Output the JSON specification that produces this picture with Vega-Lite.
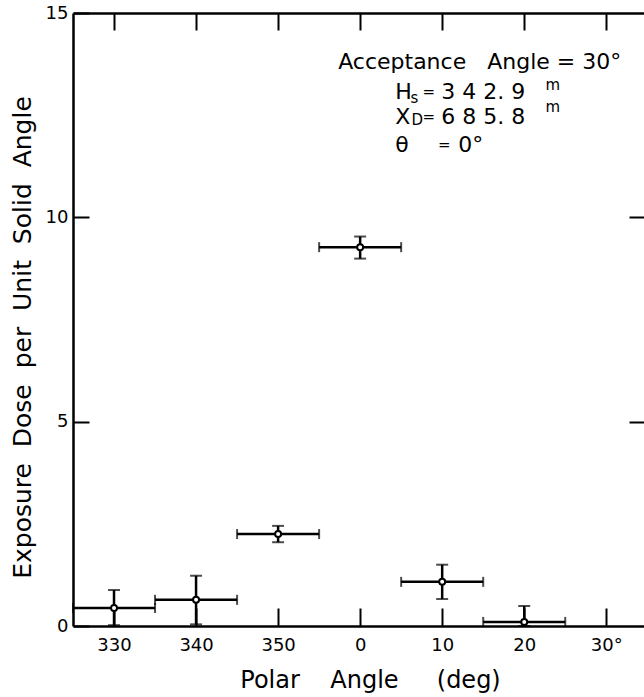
{
  "$schema": "https://vega.github.io/schema/vega-lite/v6.json",
  "width": 571,
  "height": 613,
  "autosize": {"type": "none"},
  "padding": {"left": 73, "top": 13, "right": 0, "bottom": 71},
  "background": "white",
  "config": {
    "view": {"stroke": null},
    "font": "DejaVu Sans",
    "axis": {"domainColor": "black", "tickColor": "black", "labelColor": "black", "titleColor": "black", "grid": false, "domainWidth": 2.5, "tickWidth": 2, "labelFont": "DejaVu Sans", "titleFont": "DejaVu Sans", "titleFontWeight": "normal", "labelFlush": false, "labelOverlap": false}
  },
  "datasets": {
    "pts": [
      {"angle": -30, "dose": 0.44, "dose_lo": 0.02, "dose_hi": 0.88, "angle_lo": -35, "angle_hi": -25},
      {"angle": -20, "dose": 0.64, "dose_lo": 0.04, "dose_hi": 1.23, "angle_lo": -25, "angle_hi": -15},
      {"angle": -10, "dose": 2.25, "dose_lo": 2.05, "dose_hi": 2.45, "angle_lo": -15, "angle_hi": -5},
      {"angle": 0, "dose": 9.27, "dose_lo": 8.99, "dose_hi": 9.53, "angle_lo": -5, "angle_hi": 5},
      {"angle": 10, "dose": 1.08, "dose_lo": 0.66, "dose_hi": 1.5, "angle_lo": 5, "angle_hi": 15},
      {"angle": 20, "dose": 0.1, "dose_lo": 0.0, "dose_hi": 0.49, "angle_lo": 15, "angle_hi": 25}
    ],
    "txt": [
      {"x": -2.68, "y": 13.79, "label": "Acceptance\u00a0\u00a0\u00a0Angle\u00a0=\u00a030°", "role": "main"},
      {"x": 4.27, "y": 13.06, "label": "H", "role": "main"},
      {"x": 6.15, "y": 12.93, "label": "s", "role": "sub"},
      {"x": 7.6, "y": 13.06, "label": "=", "role": "eq"},
      {"x": 9.9, "y": 13.06, "label": "3\u00a04\u00a02.\u00a09", "role": "main"},
      {"x": 22.6, "y": 13.25, "label": "m", "role": "sup"},
      {"x": 4.27, "y": 12.45, "label": "X", "role": "main"},
      {"x": 6.25, "y": 12.37, "label": "D", "role": "sub"},
      {"x": 7.6, "y": 12.45, "label": "=", "role": "eq"},
      {"x": 9.9, "y": 12.45, "label": "6\u00a08\u00a05.\u00a08", "role": "main"},
      {"x": 22.6, "y": 12.69, "label": "m", "role": "sup"},
      {"x": 4.27, "y": 11.76, "label": "θ", "role": "main"},
      {"x": 9.5, "y": 11.76, "label": "=", "role": "eq"},
      {"x": 11.95, "y": 11.76, "label": "0°", "role": "main"}
    ]
  },
  "resolve": {"axis": {"x": "independent", "y": "independent"}},
  "layer": [
    {
      "data": {"name": "pts"},
      "mark": {"type": "errorbar", "thickness": 2.5, "color": "black", "ticks": {"size": 10, "thickness": 2, "color": "black"}},
      "encoding": {
        "x": {"field": "angle_lo", "type": "quantitative", "scale": {"domain": [-35, 34.6], "nice": false, "zero": false},
          "axis": {"orient": "bottom", "values": [-30, -20, -10, 0, 10, 20, 30],
            "labelExpr": "datum.value < 0 ? datum.value + 360 : datum.value == 30 ? '\u00a030°' : datum.value",
            "tickSize": -18, "labelPadding": 37, "labelBaseline": "middle", "labelFontSize": 18,
            "title": "Polar\u00a0\u00a0\u00a0\u00a0Angle\u00a0\u00a0\u00a0\u00a0\u00a0(deg)", "titleFontSize": 24,
            "titleX": 297, "titleY": 61, "titleBaseline": "alphabetic", "titleAlign": "center"}},
        "x2": {"field": "angle_hi"},
        "y": {"field": "dose", "type": "quantitative", "scale": {"domain": [0, 15], "nice": false, "zero": false},
          "axis": {"orient": "left", "values": [0, 5, 10, 15], "tickSize": -16, "labelPadding": 21, "labelFontSize": 18,
            "title": "Exposure\u00a0\u00a0Dose\u00a0\u00a0per\u00a0\u00a0Unit\u00a0\u00a0Solid\u00a0\u00a0Angle", "titleFontSize": 25,
            "titleX": -51, "titleY": 324, "titleAngle": -90, "titleAlign": "center", "titleBaseline": "middle"}}
      }
    },
    {
      "data": {"name": "pts"},
      "mark": {"type": "errorbar", "thickness": 2.5, "color": "black", "ticks": {"size": 12, "thickness": 2, "color": "black"}},
      "encoding": {
        "x": {"field": "angle", "type": "quantitative",
          "axis": {"orient": "top", "values": [-30, -20, -10, 0, 10, 20, 30], "tickSize": -17, "labels": false, "title": null}},
        "y": {"field": "dose_lo", "type": "quantitative",
          "axis": {"orient": "right", "values": [5, 10], "tickSize": -15, "labels": false, "domain": false, "title": null}},
        "y2": {"field": "dose_hi"}
      }
    },
    {
      "data": {"name": "pts"},
      "mark": {"type": "point", "filled": true, "fill": "white", "stroke": "black", "strokeWidth": 2, "size": 36, "opacity": 1},
      "encoding": {
        "x": {"field": "angle", "type": "quantitative", "axis": null},
        "y": {"field": "dose", "type": "quantitative", "axis": null}
      }
    },
    {
      "data": {"name": "txt"},
      "transform": [{"filter": "datum.role == 'main'"}],
      "mark": {"type": "text", "align": "left", "baseline": "middle", "fontSize": 22, "color": "black"},
      "encoding": {
        "x": {"field": "x", "type": "quantitative", "axis": null},
        "y": {"field": "y", "type": "quantitative", "axis": null},
        "text": {"field": "label"}
      }
    },
    {
      "data": {"name": "txt"},
      "transform": [{"filter": "datum.role == 'sub' || datum.role == 'sup'"}],
      "mark": {"type": "text", "align": "left", "baseline": "middle", "fontSize": 15, "color": "black"},
      "encoding": {
        "x": {"field": "x", "type": "quantitative", "axis": null},
        "y": {"field": "y", "type": "quantitative", "axis": null},
        "text": {"field": "label"}
      }
    },
    {
      "data": {"name": "txt"},
      "transform": [{"filter": "datum.role == 'eq'"}],
      "mark": {"type": "text", "align": "left", "baseline": "middle", "fontSize": 15, "color": "black"},
      "encoding": {
        "x": {"field": "x", "type": "quantitative", "axis": null},
        "y": {"field": "y", "type": "quantitative", "axis": null},
        "text": {"field": "label"}
      }
    }
  ]
}
